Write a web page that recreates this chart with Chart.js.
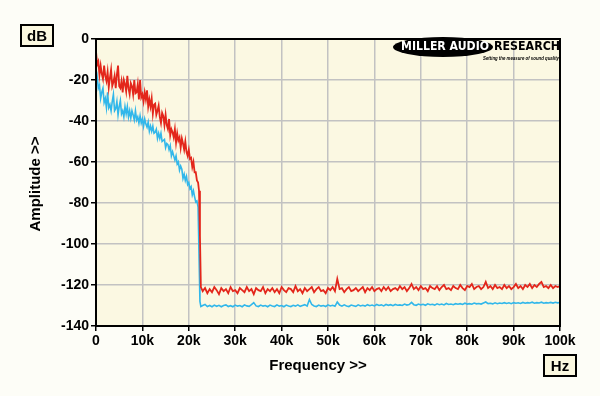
<!DOCTYPE html>
<html>
<head>
<meta charset="utf-8">
<script src="https://cdn.jsdelivr.net/npm/chart.js@4/dist/chart.umd.min.js"></script>
<style>
  html,body{margin:0;padding:0;background:#fdfdf7;}
  #wrap{width:600px;height:396px;position:relative;}
</style>
</head>
<body>
<div id="wrap"><canvas id="c" width="600" height="396"></canvas></div>
<script>
// Frequencies in kHz
const freqPass = [0,0.25,0.5,0.75,1,1.25,1.5,1.75,2,2.25,2.5,2.75,3,3.25,3.5,3.75,4,4.25,4.5,4.75,5,5.25,5.5,5.75,6,6.25,6.5,6.75,7,7.25,7.5,7.75,8,8.25,8.5,8.75,9,9.25,9.5,9.75,10,10.25,10.5,10.75,11,11.25,11.5,11.75,12,12.25,12.5,12.75,13,13.25,13.5,13.75,14,14.25,14.5,14.75,15,15.25,15.5,15.75,16,16.25,16.5,16.75,17,17.25,17.5,17.75,18,18.25,18.5,18.75,19,19.25,19.5,19.75,20,20.25,20.5,20.75,21,21.25,21.5,21.75,22];
const freqDrop = [22.2,22.4,22.6];
const freqFloor = [23,23.5,24,24.5,25,25.5,26,26.5,27,27.5,28,28.5,29,29.5,30,30.5,31,31.5,32,32.5,33,33.5,34,34.5,35,35.5,36,36.5,37,37.5,38,38.5,39,39.5,40,40.5,41,41.5,42,42.5,43,43.5,44,44.5,45,45.5,46,46.5,47,47.5,48,48.5,49,49.5,50,50.5,51,51.5,52,52.5,53,53.5,54,54.5,55,55.5,56,56.5,57,57.5,58,58.5,59,59.5,60,60.5,61,61.5,62,62.5,63,63.5,64,64.5,65,65.5,66,66.5,67,67.5,68,68.5,69,69.5,70,70.5,71,71.5,72,72.5,73,73.5,74,74.5,75,75.5,76,76.5,77,77.5,78,78.5,79,79.5,80,80.5,81,81.5,82,82.5,83,83.5,84,84.5,85,85.5,86,86.5,87,87.5,88,88.5,89,89.5,90,90.5,91,91.5,92,92.5,93,93.5,94,94.5,95,95.5,96,96.5,97,97.5,98,98.5,99,99.5,100];

// Red trace (dB)
const redPass = [-6,-12.5,-11,-17.5,-13,-17,-19.5,-13,-18,-20.5,-16,-23.5,-19,-15,-23,-21,-18,-24,-17.5,-13,-23,-24,-20.5,-26,-20,-22,-25.5,-18,-24,-27,-21.5,-23,-27,-20,-26.5,-26,-22,-29.5,-20,-28.5,-27,-30.5,-26,-29.5,-25,-33,-29.5,-33,-29,-36.5,-32,-31.5,-37,-35,-32.5,-38,-41,-36,-37.5,-42,-37,-42,-44,-39,-47,-44,-45.5,-48,-44,-50.5,-46,-49.5,-48,-53,-48.5,-51,-54,-50,-55,-57,-54,-58.5,-58,-62.5,-60,-65,-65,-69,-70];
const redDrop = [-74,-96,-121];
const redFloor = [-123,-121.5,-124,-122,-123.5,-121,-122.5,-124.5,-121.5,-123,
-122,-124,-121,-123,-122.5,-124,-121.5,-122.5,-123.5,-121,
-123,-122,-124.5,-121.5,-122.5,-123,-121,-124,-122,-123,
-121.5,-123.5,-122,-124,-121,-122.5,-123.5,-121.5,-122,-123.5,
-120.5,-123,-122,-124,-121.5,-123,-122,-121,-123.5,-122,
-121,-123,-122.5,-124,-121.5,-122.5,-121,-123,-117,-122,
-121.5,-123.5,-122,-121,-123,-122.5,-121.5,-123,-122,-121,
-123.5,-121.5,-122.5,-121,-123,-122,-121.5,-123,-121,-122.5,
-121,-123,-122,-121.5,-122.5,-120.5,-122,-121,-123,-121.5,
-119.5,-122,-121,-122.5,-120.5,-122,-121.5,-123,-120.5,-121.5,
-122,-120.5,-122.5,-121,-120,-122,-121.5,-122.5,-120.5,-121.5,
-122,-120,-121.5,-122.5,-120.5,-121,-119.5,-122,-121,-120.5,
-122,-121,-118.5,-121.5,-120.5,-122,-120,-121.5,-121,-122,
-120,-121.5,-120.5,-122,-121,-119.5,-121.5,-120.5,-122,-120,
-121,-119.5,-121.5,-120,-121,-119.5,-118.5,-121,-120.5,-121.5,
-120,-121.5,-120.5,-121,-120.5];

// Blue trace (dB)
const bluePass = [-22,-18.5,-24,-22.5,-29,-26,-24,-31,-29,-33.5,-26,-33.5,-32,-35,-30.5,-27,-35,-34,-30.5,-37,-33,-30,-36.5,-35,-38,-33,-36.5,-33,-38,-35,-38.5,-35,-37,-39.5,-35,-39.5,-38,-41,-37.5,-41,-39,-42.5,-39,-41.5,-43,-40.5,-45,-42.5,-45,-42.5,-46,-45.5,-44,-48.5,-46,-48.5,-46,-50,-49.5,-49,-53,-51,-51.5,-54,-52,-57,-55,-57,-59,-57,-61,-60,-64,-62,-63.5,-68,-66,-69,-67,-71,-70,-73,-72,-76,-74,-77,-79.5,-79,-82];
const blueDrop = [-105,-128,-130.5];
const blueFloor = [-130,-129.5,-130.5,-130,-130.6,-129.8,-130.4,-129.9,-130.6,-130,
-129.7,-130.5,-130.1,-130.6,-129.8,-130.3,-130,-130.6,-129.7,-130.2,
-130.4,-129.6,-128.6,-130.2,-130.5,-129.8,-130.3,-130,-130.6,-129.8,
-130.2,-130.5,-129.7,-130.3,-130,-130.6,-129.8,-130.2,-130.5,-129.9,
-130.3,-129.7,-130.4,-130,-129.6,-130.3,-127.1,-129.5,-130.2,-130.5,
-129.8,-130.3,-130,-130.5,-129.7,-130.2,-129.9,-130.4,-128.3,-129.8,
-130.3,-129.7,-130.2,-130.5,-129.8,-130.1,-130.4,-129.7,-130.2,-129.9,
-130.3,-129.6,-130.1,-129.8,-130.2,-129.5,-130,-129.7,-130.2,-129.5,
-129.9,-129.6,-130.1,-129.5,-129.9,-129.7,-130,-129.3,-129.8,-129.5,
-128.5,-129.6,-129.9,-129.3,-129.7,-129.4,-129.9,-129.2,-129.6,-129.4,
-129.8,-129.2,-129.6,-129.3,-129.7,-129,-129.5,-129.3,-129.6,-129.1,
-129.4,-129.1,-129.5,-128.9,-129.3,-129.1,-129.4,-128.8,-129.2,-129,
-129.3,-128.8,-128.3,-129.1,-128.9,-129.2,-128.7,-129.1,-128.8,-129,
-128.6,-129,-128.7,-129.1,-128.6,-128.9,-128.7,-129,-128.5,-128.9,
-128.6,-128.8,-128.4,-128.9,-128.6,-128.8,-128.4,-128.9,-128.6,-128.8,
-128.5,-128.8,-128.4,-128.7,-128.5];

const xTickLabels = ['0','10k','20k','30k','40k','50k','60k','70k','80k','90k','100k'];
const xTickValues = [0,10,20,30,40,50,60,70,80,90,100];
const yTickValues = [0,-20,-40,-60,-80,-100,-120,-140];

const FONT = '"Liberation Sans", Arial, sans-serif';

const freqKHz = freqPass.concat(freqDrop, freqFloor);
const toPts = (arr) => arr.map((v, i) => ({x: freqKHz[i], y: v}));
const redDb = redPass.concat(redDrop, redFloor);
const blueDb = bluePass.concat(blueDrop, blueFloor);

function fitText(ctx, text, x, y, w) {
  const m = ctx.measureText(text).width;
  ctx.save();
  ctx.translate(x, y);
  ctx.scale(w / m, 1);
  ctx.fillText(text, 0, 0);
  ctx.restore();
}

const decor = {
  id: 'decor',
  beforeDraw(chart) {
    const {ctx, chartArea: a} = chart;
    ctx.save();
    ctx.fillStyle = '#fdfdf7';
    ctx.fillRect(0, 0, chart.width, chart.height);
    ctx.fillStyle = '#fbf8e2';
    ctx.fillRect(a.left, a.top, a.right - a.left, a.bottom - a.top);
    ctx.restore();
  },
  afterDraw(chart) {
    const {ctx, chartArea: a} = chart;
    ctx.save();
    ctx.strokeStyle = '#000';
    ctx.lineWidth = 2;
    ctx.strokeRect(a.left, a.top, a.right - a.left, a.bottom - a.top);

    function box(x, y, w, h, t) {
      ctx.fillStyle = '#fbf8e0';
      ctx.fillRect(x, y, w, h);
      ctx.strokeStyle = '#000';
      ctx.lineWidth = 2;
      ctx.strokeRect(x, y, w, h);
      ctx.fillStyle = '#000';
      ctx.font = 'bold 15px ' + FONT;
      ctx.textAlign = 'center';
      ctx.textBaseline = 'middle';
      ctx.fillText(t, x + w / 2, y + h / 2 + 1);
    }
    box(21, 25, 32, 21, 'dB');
    box(544, 355, 32, 21, 'Hz');

    ctx.fillStyle = '#000';
    ctx.font = 'bold 15px ' + FONT;
    ctx.textAlign = 'center';
    ctx.textBaseline = 'middle';
    ctx.fillText('Frequency >>', 318, 366);
    ctx.save();
    ctx.translate(36, 184);
    ctx.rotate(-Math.PI / 2);
    ctx.fillText('Amplitude >>', 0, 0);
    ctx.restore();

    // logo
    ctx.fillStyle = '#000';
    ctx.beginPath();
    ctx.ellipse(443, 47, 50, 10, 0, 0, Math.PI * 2);
    ctx.fill();
    ctx.textAlign = 'left';
    ctx.textBaseline = 'middle';
    ctx.font = 'bold 12px "DejaVu Sans", ' + FONT;
    ctx.fillStyle = '#fff';
    fitText(ctx, 'MILLER AUDIO', 401, 47, 88);
    ctx.fillStyle = '#000';
    fitText(ctx, 'RESEARCH', 494, 47, 66);
    ctx.font = 'bold italic 5px ' + FONT;
    fitText(ctx, 'Setting the measure of sound quality', 483, 59, 76);
    ctx.restore();
  }
};

new Chart(document.getElementById('c'), {
  type: 'line',
  data: {
    datasets: [
      {label: 'Red', data: toPts(redDb), borderColor: '#e3261b', borderWidth: 1.8, pointRadius: 0, tension: 0},
      {label: 'Blue', data: toPts(blueDb), borderColor: '#31b7ea', borderWidth: 1.6, pointRadius: 0, tension: 0}
    ]
  },
  options: {
    responsive: false,
    animation: false,
    devicePixelRatio: 1,
    layout: {padding: {left: 0, right: 40, top: 39, bottom: 0}},
    plugins: {legend: {display: false}, tooltip: {enabled: false}},
    scales: {
      x: {
        type: 'linear', min: 0, max: 100,
        afterFit(s) { s.height = 70; },
        afterBuildTicks(s) { s.ticks = xTickValues.map(v => ({value: v})); },
        ticks: {
          color: '#000', font: {family: FONT, weight: 'bold', size: 14}, padding: 2,
          maxRotation: 0, autoSkip: false,
          callback: (v, i) => xTickLabels[i]
        },
        grid: {color: '#c2c2c2', lineWidth: 1.5, tickColor: '#000', tickLength: 5, tickWidth: 1.5},
        border: {color: '#000', width: 2}
      },
      y: {
        min: -140, max: 0,
        afterFit(s) { s.width = 96; },
        afterBuildTicks(s) { s.ticks = yTickValues.map(v => ({value: v})); },
        ticks: {
          color: '#000', font: {family: FONT, weight: 'bold', size: 14}, padding: 2,
          autoSkip: false,
          callback: (v) => String(v)
        },
        grid: {color: '#c2c2c2', lineWidth: 1.5, tickColor: '#000', tickLength: 5, tickWidth: 1.5},
        border: {color: '#000', width: 2}
      }
    }
  },
  plugins: [decor]
});
</script>
</body>
</html>
